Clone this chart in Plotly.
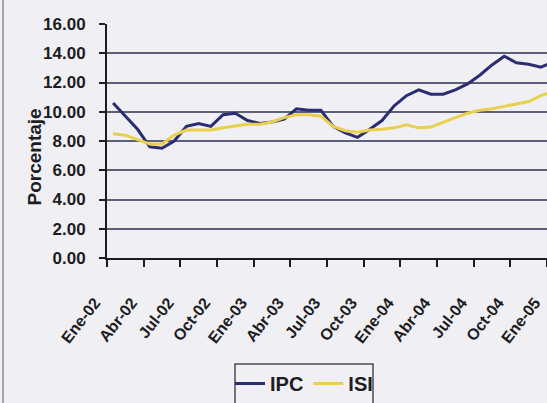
import plotly.graph_objects as go

# Monthly series, Ene-02 onward (month index 0 = Ene-02)
months = list(range(37))
ipc = [10.6, 9.7, 8.8, 7.6, 7.5, 8.0, 9.0, 9.2, 9.0, 9.8, 9.9, 9.4,
       9.2, 9.3, 9.5, 10.2, 10.1, 10.1, 9.0, 8.55, 8.25, 8.8, 9.4, 10.4,
       11.1, 11.5, 11.2, 11.2, 11.5, 11.9, 12.5, 13.2, 13.8, 13.35, 13.25, 13.05,
       13.4]
isi = [8.5, 8.4, 8.1, 7.8, 7.8, 8.4, 8.75, 8.75, 8.75, 8.9, 9.0, 9.15,
       9.15, 9.3, 9.6, 9.8, 9.8, 9.7, 9.0, 8.7, 8.6, 8.75, 8.8, 8.9,
       9.1, 8.9, 8.95, 9.3, 9.6, 9.9, 10.1, 10.2, 10.35, 10.5, 10.7, 11.1,
       11.4]

# Quarterly labels sit on the category boundaries (every third month)
tick_pos = [-0.5, 2.5, 5.5, 8.5, 11.5, 14.5, 17.5, 20.5, 23.5, 26.5, 29.5, 32.5, 35.5]
tick_labels = ["Ene-02", "Abr-02", "Jul-02", "Oct-02", "Ene-03", "Abr-03", "Jul-03",
               "Oct-03", "Ene-04", "Abr-04", "Jul-04", "Oct-04", "Ene-05"]
y_ticks = [0, 2, 4, 6, 8, 10, 12, 14, 16]
y_tick_labels = ["%.2f" % v for v in y_ticks]

paper_bg = "#f0f0f4"
grid = "#5c6078"
ink = "#1c1c22"
font_family = "Liberation Sans, Arial, sans-serif"

fig = go.Figure()
fig.add_trace(go.Scatter(x=months, y=ipc, name="IPC", mode="lines",
                         line=dict(color="#2a2d70", width=3)))
fig.add_trace(go.Scatter(x=months, y=isi, name="ISI", mode="lines",
                         line=dict(color="#e8d04e", width=3)))

fig.update_layout(
    width=547, height=403,
    margin=dict(l=107, r=0, t=24, b=145),
    paper_bgcolor=paper_bg, plot_bgcolor=paper_bg,
    font=dict(family=font_family, color=ink),
    showlegend=True,
    legend=dict(orientation="h", x=0.2795, y=-0.455, xanchor="left", yanchor="top",
                bgcolor="rgba(0,0,0,0)", borderwidth=0,
                font=dict(size=20, family=font_family, color=ink, weight="bold"),
                itemwidth=30, tracegroupgap=0),
)

fig.update_xaxes(
    range=[-0.5, 35.5], showgrid=False, zeroline=False,
    tickmode="array", tickvals=tick_pos, ticktext=tick_labels,
    tickangle=-52, ticks="outside", ticklen=7, tickwidth=2, tickcolor=ink,
    ticklabelstandoff=20, ticklabelshift=-12,
    tickfont=dict(size=16, family=font_family, color=ink, weight="bold"),
    showline=True, linecolor=ink, linewidth=2,
)
fig.update_yaxes(
    range=[0, 16], tickmode="array", tickvals=y_ticks, ticktext=y_tick_labels,
    showgrid=True, gridcolor=grid, gridwidth=2, zeroline=False,
    ticks="outside", ticklen=6, tickwidth=2, tickcolor=ink, ticklabelstandoff=10,
    tickfont=dict(size=17, family=font_family, color=ink, weight="bold"),
    showline=True, linecolor=ink, linewidth=2,
)

# Axis title
fig.add_annotation(text="Porcentaje", xref="paper", yref="paper",
                   x=-0.193, y=0.432, textangle=-90, showarrow=False,
                   font=dict(size=19, family=font_family, color=ink, weight="bold"))

# Legend frame and the chart's outer border on the left
fig.add_shape(type="rect", xref="paper", yref="paper",
              x0=(235 - 107) / 440, x1=(373 - 107) / 440,
              y0=(258 - 364) / 234, y1=(258 - 420) / 234,
              line=dict(color="#4a4a55", width=1.5), fillcolor="rgba(0,0,0,0)")
fig.add_shape(type="line", xref="paper", yref="paper",
              x0=(3 - 107) / 440, x1=(3 - 107) / 440,
              y0=(258 - 0) / 234, y1=(258 - 403) / 234,
              line=dict(color="#8a8a92", width=1.5))

fig.write_html("out.html", config=dict(displayModeBar=False))
